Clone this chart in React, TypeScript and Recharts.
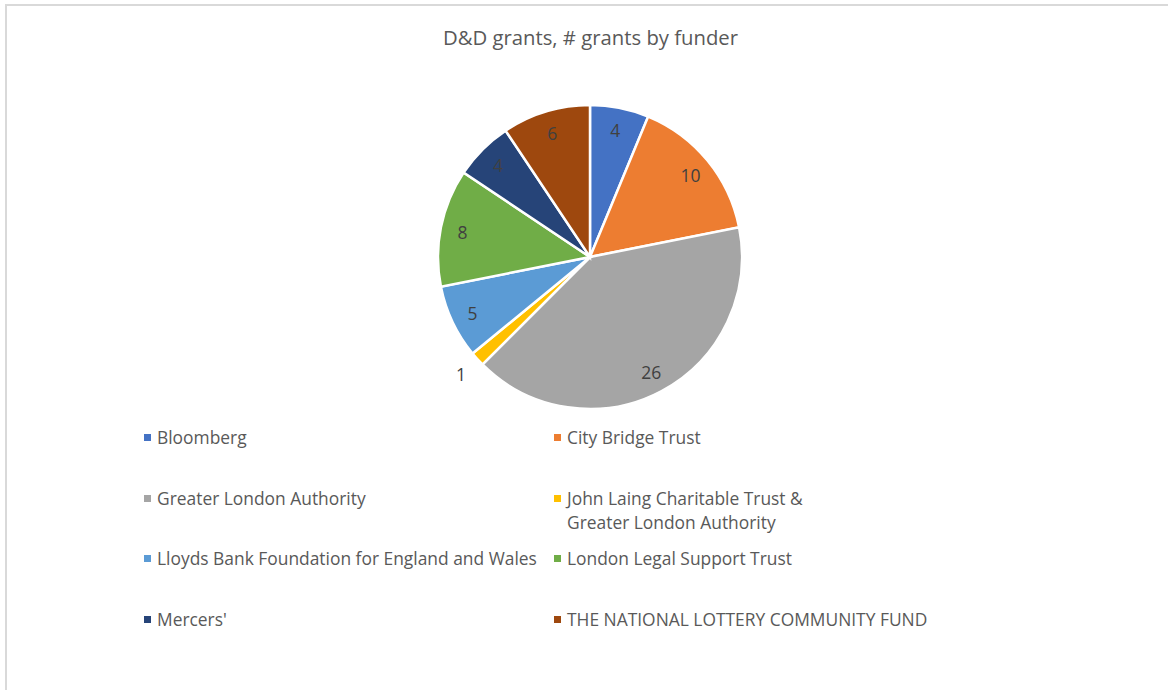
import React from "react";
import { PieChart, Pie, Cell, Legend } from "recharts";

const FUNDERS = [
  "Bloomberg",
  "City Bridge Trust",
  "Greater London Authority",
  "John Laing Charitable Trust & Greater London Authority",
  "Lloyds Bank Foundation for England and Wales",
  "London Legal Support Trust",
  "Mercers'",
  "THE NATIONAL LOTTERY COMMUNITY FUND",
];

const GRANTS = [4, 10, 26, 1, 5, 8, 4, 6];

const COLORS = [
  "#4472C4", // blue
  "#ED7D31", // orange
  "#A5A5A5", // grey
  "#FFC000", // gold
  "#5B9BD5", // light blue
  "#70AD47", // green
  "#264478", // navy
  "#9E480E", // brown
];

const FONT = "'Open Sans', sans-serif";
const TEXT = "#595959";

const chartData = FUNDERS.map((name, i) => ({ name, value: GRANTS[i] }));

const RADIAN = Math.PI / 180;

const SliceLabel = ({ cx, cy, midAngle, outerRadius, value }: any) => {
  // tiny slices get their label pushed outside, like Excel does
  const r = value <= 1 ? outerRadius + 22 : outerRadius * 0.855;
  const x = cx + r * Math.cos(-midAngle * RADIAN);
  const y = cy + r * Math.sin(-midAngle * RADIAN);
  return (
    <text
      x={x}
      y={y}
      fill="#404040"
      textAnchor="middle"
      dominantBaseline="central"
      style={{ fontFamily: FONT, fontSize: 17.5 }}
    >
      {value}
    </text>
  );
};

// Excel wraps the long combined name after the ampersand
const wrapName = (name: string) => {
  const i = name.indexOf("& ");
  if (i < 0) return [name];
  return [name.slice(0, i + 1), name.slice(i + 2)];
};

const GridLegend = ({ payload }: any) => (
  <div
    style={{
      display: "grid",
      gridTemplateColumns: "410px 410px",
      gridAutoRows: "60.5px",
      fontFamily: FONT,
      fontSize: 17.4,
      color: TEXT,
      lineHeight: "24px",
    }}
  >
    {(payload || []).map((entry: any, i: number) => (
      <div key={i} style={{ display: "flex", alignItems: "flex-start" }}>
        <span
          style={{
            width: 7,
            height: 7,
            background: entry.color,
            marginTop: 9,
            marginRight: 6,
            flex: "none",
          }}
        />
        <span>
          {wrapName(entry.value).map((line, j) => (
            <div key={j}>{line}</div>
          ))}
        </span>
      </div>
    ))}
  </div>
);

export default function App() {
  return (
    <div
      style={{
        position: "fixed",
        left: 0,
        top: 0,
        width: 1168,
        height: 690,
        background: "#fff",
        overflow: "hidden",
      }}
    >
      <div
        style={{
          position: "absolute",
          left: 5,
          top: 4,
          right: -2,
          bottom: -2,
          borderTop: "2px solid #d9d9d9",
          borderLeft: "2px solid #d9d9d9",
        }}
      />
      <div
        style={{
          position: "absolute",
          top: 23,
          left: 0,
          width: 1181,
          textAlign: "center",
          fontFamily: FONT,
          fontSize: 20.3,
          color: TEXT,
        }}
      >
        D&amp;D grants, # grants by funder
      </div>
      <div style={{ position: "absolute", left: 0, top: 0 }}>
        <PieChart width={1168} height={690} margin={{ top: 0, right: 0, bottom: 0, left: 0 }}>
          <Pie
            data={chartData}
            dataKey="value"
            nameKey="name"
            cx={590}
            cy={257}
            outerRadius={152}
            startAngle={90}
            endAngle={-270}
            stroke="#ffffff"
            strokeWidth={2.5}
            labelLine={false}
            label={SliceLabel}
            isAnimationActive={false}
          >
            {chartData.map((_, i) => (
              <Cell key={`cell-${i}`} fill={COLORS[i]} />
            ))}
          </Pie>
          <Legend
            content={<GridLegend />}
            wrapperStyle={{ position: "absolute", left: 144, top: 425, width: 830 }}
          />
        </PieChart>
      </div>
    </div>
  );
}
